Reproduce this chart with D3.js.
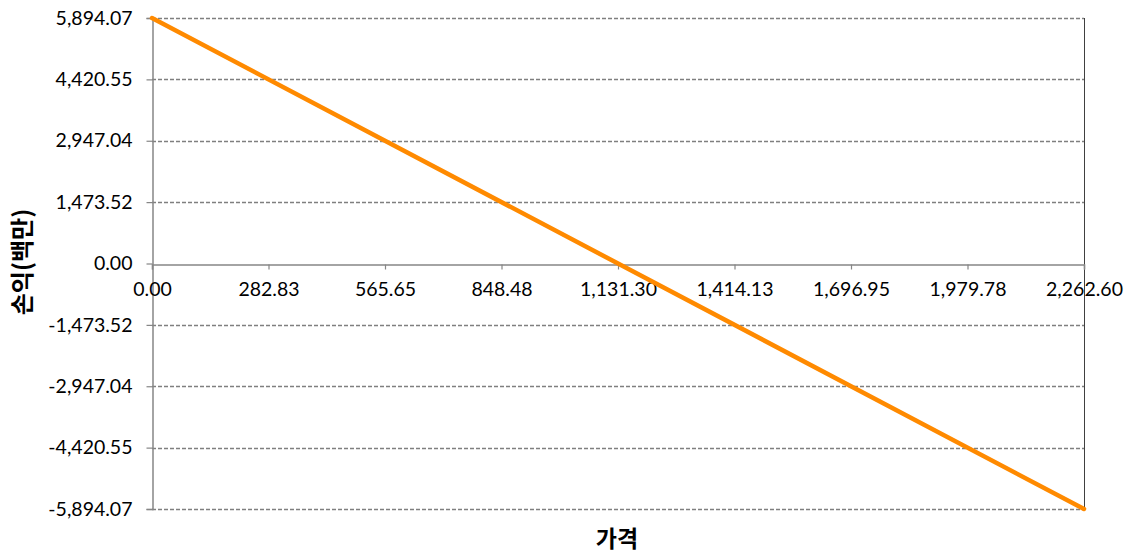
<!DOCTYPE html>
<html><head><meta charset="utf-8">
<script src="https://cdn.jsdelivr.net/npm/d3@7"></script>
<style>
html,body{margin:0;padding:0;background:#fff;}
svg{display:block;}
</style></head>
<body><svg id="c" width="1128" height="555"></svg>
<script>
const xTicks = [0, 282.83, 565.65, 848.48, 1131.30, 1414.13, 1696.95, 1979.78, 2262.60];
const yTicks = [-5894.07, -4420.55, -2947.04, -1473.52, 0, 1473.52, 2947.04, 4420.55, 5894.07];
const lineX = [0, 2262.60];
const lineY = [5894.07, -5894.07];
const xTitle = "가격";
const yTitle = "손익(백만)";

const svg = d3.select("#c");
const L = 152, R = 1084, T = 18, B = 509;
const x = d3.scaleLinear().domain([0, 2262.60]).range([L, R]);
const y = d3.scaleLinear().domain([-5894.07, 5894.07]).range([B, T]);
const f0 = d3.format(",.2f");
const fmt = d => f0(d).replace("\u2212", "-");
const tickFont = "Lato, 'Open Sans', sans-serif";

// gridlines
svg.append("g").selectAll("line").data(yTicks.filter(d => d !== 0)).join("line")
  .attr("x1", L).attr("x2", R)
  .attr("y1", d => Math.round(y(d)) + 0.5).attr("y2", d => Math.round(y(d)) + 0.5)
  .attr("stroke", "#7f7f7f").attr("stroke-width", 1.3).attr("stroke-dasharray", "4,2");

// right border
svg.append("line").attr("x1", R + 0.5).attr("x2", R + 0.5).attr("y1", T).attr("y2", B)
  .attr("stroke", "#404040").attr("stroke-width", 1);

// y axis
const yAxis = svg.append("g").attr("transform", `translate(${L + 0.5},0)`)
  .call(d3.axisLeft(y).tickValues(yTicks).tickFormat(fmt).tickSize(6).tickPadding(14));
yAxis.select(".domain").attr("stroke", "#868686").attr("stroke-width", 1.5);
yAxis.selectAll(".tick line").attr("stroke", "#868686").attr("stroke-width", 1.2);
yAxis.selectAll(".tick text").attr("font-size", 19.5).attr("fill", "#000").attr("font-family", tickFont);

// x axis at y = 0
const xAxis = svg.append("g").attr("transform", `translate(0,${Math.round(y(0)) + 0.5})`)
  .call(d3.axisBottom(x).tickValues(xTicks).tickFormat(fmt).tickSize(5).tickPadding(13));
xAxis.select(".domain").attr("stroke", "#868686").attr("stroke-width", 1.5);
xAxis.selectAll(".tick line").attr("stroke", "#868686").attr("stroke-width", 1.2);
xAxis.selectAll(".tick text").attr("font-size", 19.5).attr("fill", "#000").attr("font-family", tickFont);

// data line
const pts = lineX.map((v, i) => [v, lineY[i]]);
svg.append("path").datum(pts)
  .attr("d", d3.line().x(d => x(d[0])).y(d => y(d[1])))
  .attr("fill", "none").attr("stroke", "#FF8A00").attr("stroke-width", 4.5).attr("stroke-linecap", "round");

// titles
svg.append("text").attr("x", 617).attr("y", 547).attr("text-anchor", "middle")
  .attr("font-family", "Noto Sans CJK KR").attr("font-weight", "bold").attr("font-size", 23).attr("fill", "#000")
  .text(xTitle);
svg.append("text").attr("transform", `translate(31,262) rotate(-90)`).attr("text-anchor", "middle")
  .attr("font-family", "Noto Sans CJK KR").attr("font-weight", "bold").attr("font-size", 24).attr("fill", "#000")
  .text(yTitle);
</script></body></html>
